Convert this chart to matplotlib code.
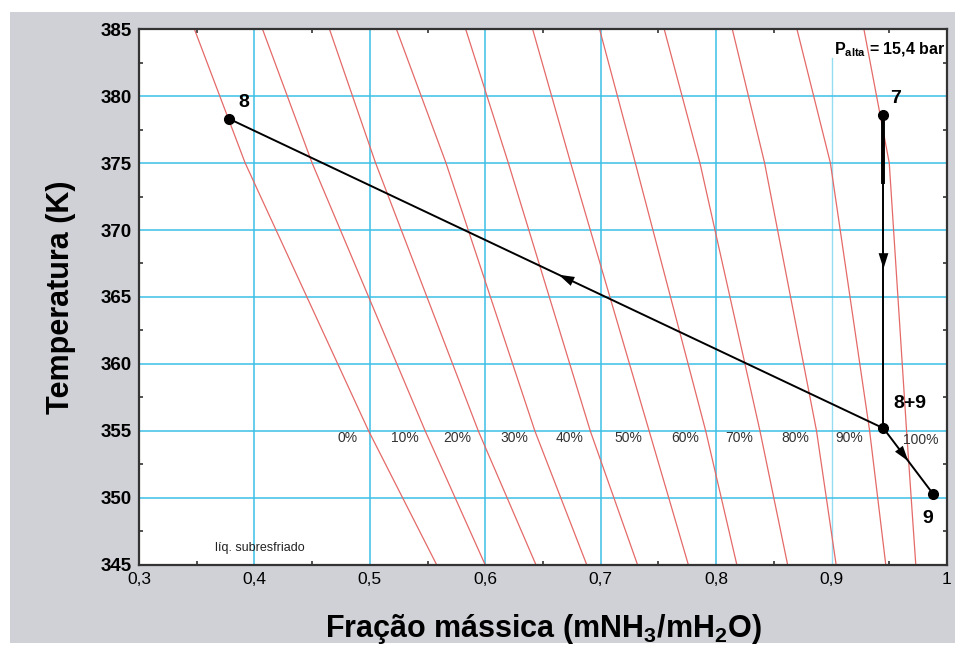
import numpy as np
import matplotlib.pyplot as plt
from matplotlib.patches import Rectangle

plt.rcParams['font.family'] = ['Liberation Sans', 'DejaVu Sans']
plt.rcParams['mathtext.fontset'] = 'custom'
plt.rcParams['mathtext.rm'] = 'Liberation Sans:bold'
plt.rcParams['mathtext.bf'] = 'Liberation Sans:bold'

# constant-quality lines: x (mass fraction) read at each temperature
iso_T = [385, 375, 355, 345]
iso_labels = ['0%', '10%', '20%', '30%', '40%', '50%', '60%', '70%', '80%', '90%', '100%']
iso_x = [
    [0.348, 0.392, 0.499, 0.558],
    [0.407, 0.450, 0.548, 0.600],
    [0.465, 0.505, 0.594, 0.644],
    [0.523, 0.566, 0.643, 0.688],
    [0.583, 0.620, 0.691, 0.732],
    [0.641, 0.674, 0.742, 0.776],
    [0.699, 0.730, 0.791, 0.818],
    [0.755, 0.786, 0.838, 0.862],
    [0.814, 0.842, 0.887, 0.904],
    [0.870, 0.899, 0.933, 0.947],
    [0.928, 0.950, 0.965, 0.973],
]

# cycle states
pt_names = ['7', '8+9', '8', '9']
pt_x = [0.945, 0.945, 0.378, 0.988]
pt_T = [378.6, 355.2, 378.3, 350.3]

x_ticks = [0.3, 0.4, 0.5, 0.6, 0.7, 0.8, 0.9, 1.0]
x_ticklabels = ['0,3', '0,4', '0,5', '0,6', '0,7', '0,8', '0,9', '1']
y_ticks = [345, 350, 355, 360, 365, 370, 375, 380, 385]

fig = plt.figure(figsize=(9.55, 6.46), dpi=100)
fig.patches.append(Rectangle((10 / 955, 3 / 646), 945 / 955, 631 / 646,
                             transform=fig.transFigure, facecolor='#cfd1d6',
                             edgecolor='none', zorder=-1))
ax = fig.add_axes([0.1455, 0.1254, 0.8461, 0.8297])
ax.set_facecolor('white')

# cyan grid
cyan = '#3cc0e6'
for xv in [0.4, 0.5, 0.6, 0.7, 0.8]:
    ax.axvline(xv, color=cyan, lw=1.1, zorder=1)
ax.plot([0.9, 0.9], [345, 382.8], color=cyan, lw=1.0, alpha=0.55, zorder=1)
for tv in [350, 355, 360, 365, 370, 375, 380]:
    ax.axhline(tv, color=cyan, lw=1.1, zorder=1)

# quality lines and their labels along the 355 K row
for lab, xs in zip(iso_labels, iso_x):
    ax.plot(xs, iso_T, color='#e46a68', lw=0.9, zorder=2)
    x355 = xs[iso_T.index(355)]
    if lab == '100%':
        ax.text(x355 - 0.003, 354.3, lab, fontsize=10, color='#333333',
                ha='left', va='center', zorder=3)
    else:
        ax.text(x355 - 0.018, 354.5, lab, fontsize=10, color='#333333',
                ha='center', va='center', zorder=3)

# process paths 7 -> 8+9, 8+9 -> 8, 8+9 -> 9
p = dict(zip(pt_names, zip(pt_x, pt_T)))
paths = [('7', '8+9'), ('8+9', '8'), ('8+9', '9')]
for a, b in paths:
    (x0, y0), (x1, y1) = p[a], p[b]
    ax.plot([x0, x1], [y0, y1], color='black', lw=1.4, zorder=4)
    t = 0.5
    xm, ym = x0 + t * (x1 - x0), y0 + t * (y1 - y0)
    xb, yb = x0 + (t - 0.02) * (x1 - x0), y0 + (t - 0.02) * (y1 - y0)
    ax.annotate('', xy=(xm, ym), xytext=(xb, yb),
                arrowprops=dict(arrowstyle='-|>,head_length=0.7,head_width=0.22',
                                color='black', lw=0, mutation_scale=16), zorder=5)
ax.plot([p['7'][0], p['7'][0]], [p['7'][1], 373.6], color='black', lw=2.8, zorder=4)

ax.plot(pt_x, pt_T, 'o', color='black', ms=7, zorder=6)

label_offsets = {'7': (9, 12), '8+9': (19, 18), '8': (11, 12), '9': (-4, -18)}
for name, xv, tv in zip(pt_names, pt_x, pt_T):
    dx, dy = label_offsets[name]
    ax.annotate(name, (xv, tv), xytext=(dx, dy), textcoords='offset points',
                fontsize=14, fontweight='bold', ha='center', va='center', zorder=7)

ax.text(0.998, 0.978, r'$\mathbf{P_{alta}}$ = 15,4 bar', transform=ax.transAxes,
        fontsize=11.5, fontweight='bold', ha='right', va='top', zorder=7)
ax.text(0.3655, 346.3, 'líq. subresfriado', fontsize=9, color='#222222',
        ha='left', va='center', zorder=7)

ax.set_xlim(0.3, 1.0)
ax.set_ylim(345, 385)
ax.set_xticks(x_ticks)
ax.set_xticklabels(x_ticklabels, fontsize=12.5)
ax.set_yticks(y_ticks)
ax.set_yticklabels([str(v) for v in y_ticks], fontsize=13.5, fontweight='bold')
ax.set_xticks(np.arange(0.35, 1.0, 0.1), minor=True)
ax.set_yticks(np.arange(347.5, 385, 5), minor=True)
ax.tick_params(which='both', direction='in', top=True, right=True, length=3,
               width=1.2, color='#333333')
ax.tick_params(which='major', length=0, pad=5)
for s in ax.spines.values():
    s.set_linewidth(1.6)
    s.set_color('#333333')

ax.set_xlabel(r'Fração mássica (mNH$_3$/mH$_2$O)', fontsize=22, fontweight='bold',
              labelpad=18)
ax.set_ylabel('Temperatura (K)', fontsize=22, fontweight='bold', labelpad=18)

fig.savefig('out.png', dpi=100)
